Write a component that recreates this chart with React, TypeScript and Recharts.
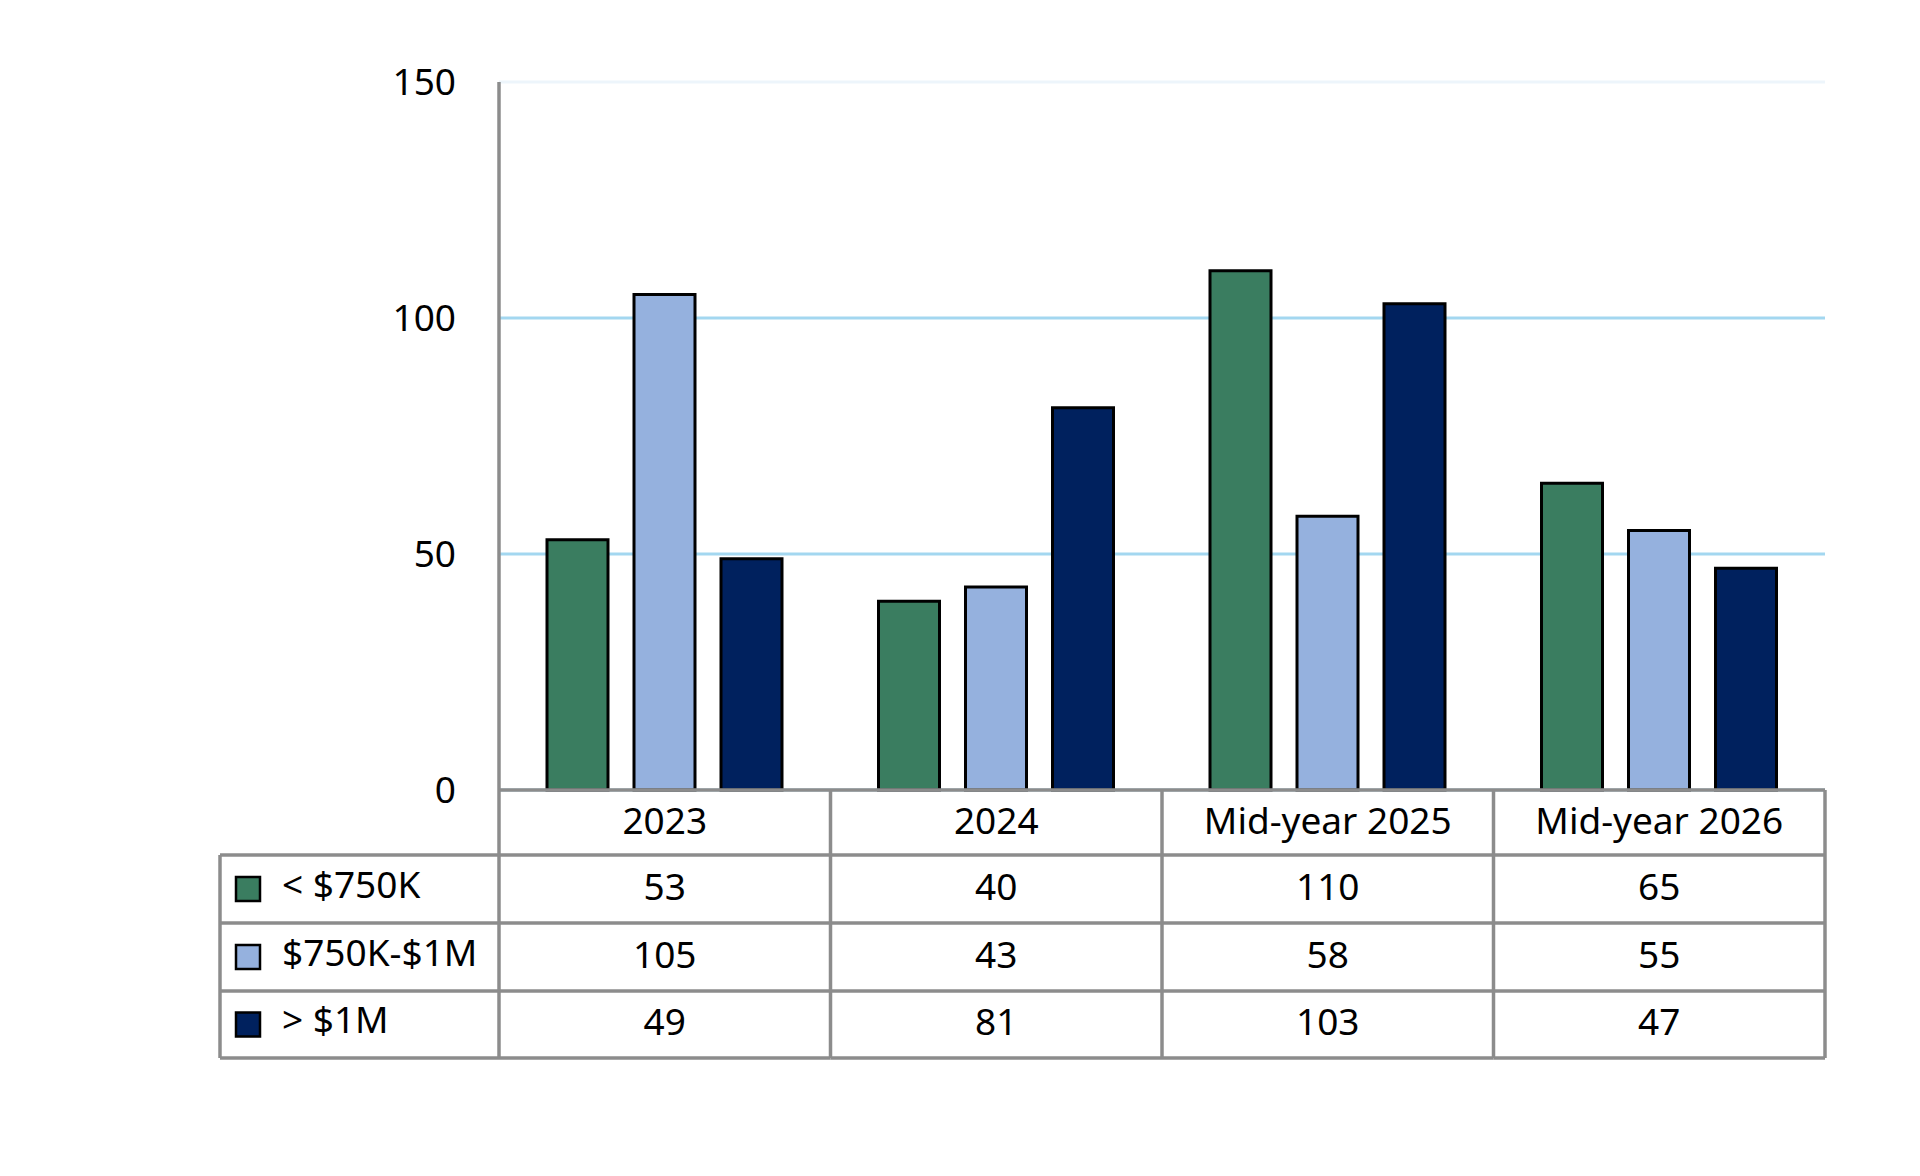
import { BarChart, Bar, XAxis, YAxis, CartesianGrid } from 'recharts';

const categories = ['2023', '2024', 'Mid-year 2025', 'Mid-year 2026'];
const seriesNames = ['< $750K', '$750K-$1M', '> $1M'];
const under750k = [53, 40, 110, 65];
const from750kTo1m = [105, 43, 58, 55];
const over1m = [49, 81, 103, 47];
const yTicks = [0, 50, 100, 150];

const colors = ['#3A7D60', '#95B1DE', '#00215E'];
const seriesValues = [under750k, from750kTo1m, over1m];
const keys = ['under750k', 'from750kTo1m', 'over1m'];

const data = categories.map((name, i) => ({
  name,
  under750k: under750k[i],
  from750kTo1m: from750kTo1m[i],
  over1m: over1m[i],
}));

const W = 1904;
const H = 1160;
const M = { top: 74, right: 87, left: 391, bottom: 98 };
const Y_AXIS_W = 100;
const X_AXIS_H = 280;
const PLOT_W = W - M.left - Y_AXIS_W - M.right;
const BAND = PLOT_W / categories.length;
const LINE = '#8C8C8C';
const LINE_W = 3.5;
const FONT = 37;
const TEXT_SHIFT = -4;

// table row edges, measured down from the axis line
const ROWS = [0, 65, 133, 201, 268];
const LEGEND_W = 279;

const TableTick = (props: any) => {
  const { x, y, payload } = props;
  const i = payload.index;
  const left = x - BAND / 2;
  const right = x + BAND / 2;
  const legendLeft = left - LEGEND_W;
  return (
    <g>
      <text x={x} y={y + 33 + TEXT_SHIFT} textAnchor="middle" dominantBaseline="central" fontSize={FONT} fill="#000">
        {payload.value}
      </text>
      {seriesValues.map((vals, s) => (
        <text
          key={s}
          x={x}
          y={y + (ROWS[s + 1] + ROWS[s + 2]) / 2 + TEXT_SHIFT}
          textAnchor="middle"
          dominantBaseline="central"
          fontSize={FONT}
          fill="#000"
        >
          {vals[i]}
        </text>
      ))}
      {ROWS.slice(1).map((r) => (
        <line key={r} x1={left} x2={right} y1={y + r} y2={y + r} stroke={LINE} strokeWidth={LINE_W} />
      ))}
      <line x1={right} x2={right} y1={y} y2={y + ROWS[4]} stroke={LINE} strokeWidth={LINE_W} />
      {i === 0 && (
        <g>
          <line x1={left} x2={left} y1={y} y2={y + ROWS[4]} stroke={LINE} strokeWidth={LINE_W} />
          <line x1={legendLeft} x2={legendLeft} y1={y + ROWS[1]} y2={y + ROWS[4]} stroke={LINE} strokeWidth={LINE_W} />
          {ROWS.slice(1).map((r) => (
            <line key={r} x1={legendLeft} x2={left} y1={y + r} y2={y + r} stroke={LINE} strokeWidth={LINE_W} />
          ))}
          {seriesNames.map((n, s) => {
            const cy = y + (ROWS[s + 1] + ROWS[s + 2]) / 2;
            return (
              <g key={n}>
                <rect x={legendLeft + 16} y={cy - 12} width={24} height={24} fill={colors[s]} stroke="#000" strokeWidth={2.5} />
                <text x={legendLeft + 62} y={cy - 6} dominantBaseline="central" fontSize={FONT} fill="#000">
                  {n}
                </text>
              </g>
            );
          })}
        </g>
      )}
    </g>
  );
};

const gridLine = (p: any) => (
  <line
    key={p.key}
    x1={p.x1}
    x2={p.x2}
    y1={p.y1}
    y2={p.y2}
    stroke={Math.abs(p.y1 - M.top) < 2 ? '#EDF5FB' : '#A3D7F0'}
    strokeWidth={3}
  />
);

export default function App() {
  return (
    <div style={{ fontFamily: '"Noto Sans", sans-serif', width: W, height: H }}>
      <BarChart width={W} height={H} data={data} margin={M} barSize={61} barGap={26}>
        <CartesianGrid vertical={false} horizontal={gridLine} />
        <XAxis
          dataKey="name"
          height={X_AXIS_H}
          axisLine={{ stroke: LINE, strokeWidth: LINE_W }}
          tickLine={false}
          tickSize={0}
          tickMargin={0}
          interval={0}
          tick={<TableTick />}
        />
        <YAxis
          domain={[0, 150]}
          ticks={yTicks}
          width={Y_AXIS_W}
          axisLine={{ stroke: LINE, strokeWidth: LINE_W }}
          tickLine={false}
          tickSize={0}
          tickMargin={43}
          tick={{ fontSize: FONT, fill: '#000' }}
        />
        {keys.map((k, s) => (
          <Bar key={k} dataKey={k} name={seriesNames[s]} fill={colors[s]} stroke="#000" strokeWidth={3} isAnimationActive={false} />
        ))}
      </BarChart>
    </div>
  );
}
